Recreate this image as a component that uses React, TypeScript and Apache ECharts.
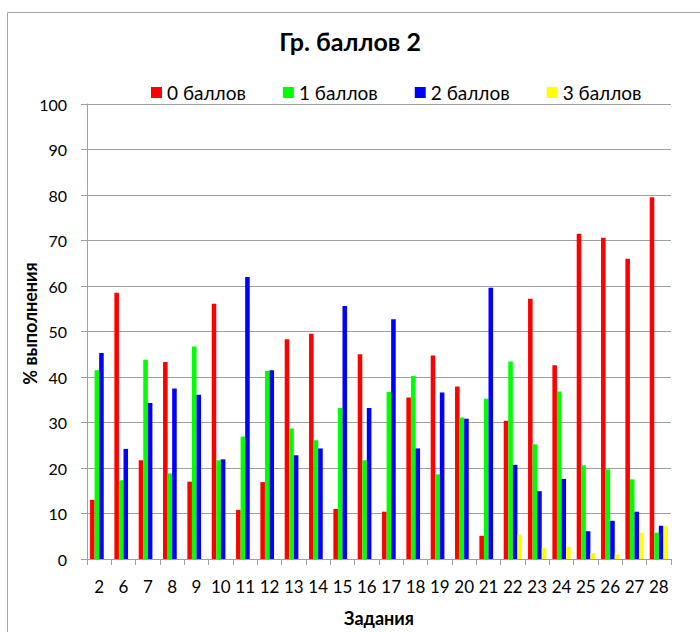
import React, { useEffect, useRef } from "react";
import * as echarts from "echarts";

const categories = ["2", "6", "7", "8", "9", "10", "11", "12", "13", "14", "15", "16", "17", "18", "19", "20", "21", "22", "23", "24", "25", "26", "27", "28"];
const seriesNames = ["0 баллов", "1 баллов", "2 баллов", "3 баллов"];
const score0 = [13, 58.5, 21.7, 43.3, 17, 56.1, 10.8, 16.9, 48.3, 49.5, 11, 45, 10.4, 35.5, 44.7, 37.9, 5.1, 30.4, 57.2, 42.6, 71.5, 70.6, 66, 79.5];
const score1 = [41.5, 17.3, 43.8, 18.8, 46.7, 21.7, 26.9, 41.3, 28.7, 26.1, 33.2, 21.7, 36.7, 40.2, 18.6, 31.1, 35.2, 43.4, 25.2, 36.8, 20.6, 19.7, 17.5, 5.8];
const score2 = [45.3, 24.2, 34.3, 37.5, 36.1, 21.9, 62, 41.5, 22.8, 24.3, 55.6, 33.2, 52.7, 24.3, 36.6, 30.8, 59.6, 20.7, 14.9, 17.6, 6.1, 8.4, 10.4, 7.3];
const score3 = [0, 0, 0, 0, 0, 0, 0, 0, 0, 0, 0, 0, 0, 0, 0, 0, 0, 5.4, 2.4, 2.7, 1.3, 1.0, 5.8, 7.2];
const colors = ["#ff0000", "#00ff00", "#0000ff", "#ffff00"];
const yTicks = [0, 10, 20, 30, 40, 50, 60, 70, 80, 90, 100];

export default function App() {
  const ref = useRef<HTMLDivElement>(null);
  useEffect(() => {
    if (!ref.current) return;
    const chart = echarts.init(ref.current, null, { renderer: "svg" });
    const data = [score0, score1, score2, score3];
    const font = "Lato, 'Liberation Sans', sans-serif";
    chart.setOption({
      animation: false,
      backgroundColor: "#ffffff",
      textStyle: { fontFamily: font },
      title: {
        text: "Гр. баллов 2",
        left: "center",
        top: 23,
        textStyle: { fontSize: 25, fontWeight: "bold", color: "#000", fontFamily: font },
      },
      legend: {
        data: seriesNames,
        top: 78,
        left: 146,
        itemWidth: 11,
        itemHeight: 11,
        itemGap: 37,
        icon: "rect",
        textStyle: { fontSize: 19, color: "#000", fontFamily: font },
      },
      graphic: [
        {
          type: "rect",
          shape: { x: 7.5, y: 12.5, width: 720, height: 640 },
          style: { fill: "none", stroke: "#a6a6a6", lineWidth: 1 },
          silent: true,
        },
      ],
      grid: { left: 87, right: 29, top: 104, bottom: 73 },
      xAxis: {
        type: "category",
        data: categories,
        name: "Задания",
        nameLocation: "middle",
        nameGap: 50,
        nameMoveOverlap: false,
        nameTextStyle: { fontSize: 18, fontWeight: "bold", color: "#000", fontFamily: font },
        axisLine: { lineStyle: { color: "#a0a0a0", width: 1 } },
        axisTick: { show: true, alignWithLabel: false, length: 6, lineStyle: { color: "#a0a0a0" } },
        axisLabel: { fontSize: 17, color: "#000", margin: 19, interval: 0 },
      },
      yAxis: {
        type: "value",
        min: yTicks[0],
        max: yTicks[yTicks.length - 1],
        interval: 10,
        name: "% выполнения",
        nameLocation: "middle",
        nameGap: 48,
        nameMoveOverlap: false,
        nameRotate: 90,
        nameTextStyle: { fontSize: 18, fontWeight: "bold", color: "#000", fontFamily: font, padding: [0, 0, 0, 16] },
        axisLine: { show: true, lineStyle: { color: "#a0a0a0", width: 1 } },
        axisTick: { show: true, length: 6, lineStyle: { color: "#a0a0a0" } },
        axisLabel: { fontSize: 16, color: "#000", margin: 20 },
        splitLine: { show: true, lineStyle: { color: "#a0a0a0", width: 1 } },
      },
      series: seriesNames.map((name, i) => ({
        name,
        type: "bar",
        data: data[i],
        barGap: "0%",
        barCategoryGap: "25%",
        itemStyle: { color: colors[i] },
      })),
    });
    return () => chart.dispose();
  }, []);
  return (
    <div
      ref={ref}
      style={{ position: "absolute", left: 0, top: 0, width: 700, height: 632 }}
    />
  );
}
